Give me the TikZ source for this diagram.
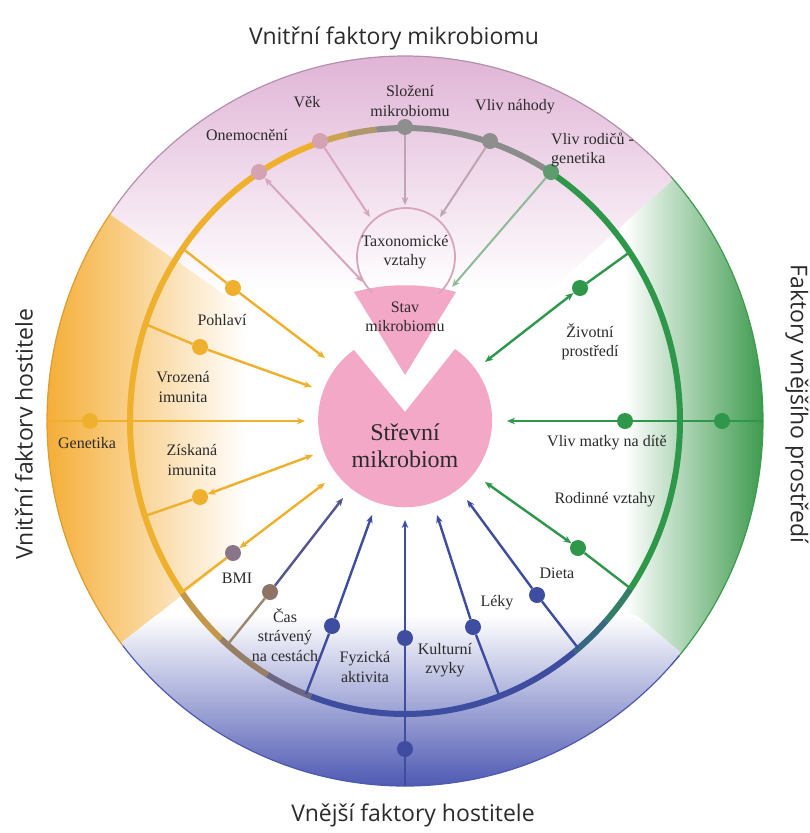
\documentclass[tikz,border=0pt]{standalone}
\usepackage{fontspec}
\setmainfont{Liberation Serif}
\newfontfamily\titlefont{Open Sans}
\usetikzlibrary{arrows.meta}

\definecolor{bgpink}{HTML}{E0B4D6}
\definecolor{bgorange}{HTML}{F5AE38}
\definecolor{bggreen}{HTML}{3E9B4F}
\definecolor{bgblue}{HTML}{4D58B2}
\definecolor{ringorange}{HTML}{EFB02E}
\definecolor{ringgray}{HTML}{8C8C8C}
\definecolor{ringgreen}{HTML}{2E974A}
\definecolor{ringblue}{HTML}{3E4DA0}
\definecolor{piepink}{HTML}{F4A8C8}
\definecolor{toppink}{HTML}{D7A6BE}
\definecolor{topgray}{HTML}{C0A4B4}
\definecolor{rodgreen}{HTML}{8DBA97}
\definecolor{dotpink}{HTML}{D5A2B4}
\definecolor{dotgray}{HTML}{8E8E8E}
\definecolor{dotrod}{HTML}{5E9C70}
\definecolor{dotbmi}{HTML}{8A7488}
\definecolor{dotcas}{HTML}{8F7466}
\definecolor{casline}{HTML}{55558F}
\definecolor{casbrown}{HTML}{9C8670}
\definecolor{labeltext}{HTML}{2B2B2B}

\tikzset{
  bead/.style={circle, inner sep=0pt, minimum size=16pt},
  spoke/.style={line width=2.4pt},
  ringarc/.style={line width=6pt, x radius=275, y radius=293},
  rimarc/.style={line width=1.2pt, x radius=358, y radius=365},
  lbl/.style={font=\fontsize{16}{19.5}\selectfont, text=labeltext, align=center, inner sep=0pt},
  heading/.style={font=\titlefont\fontsize{23}{26}\selectfont, text=labeltext, inner sep=0pt},
}

\begin{document}
\begin{tikzpicture}[x=1pt, y=-1pt, >={Stealth[length=8pt,width=6.5pt]}]
    \useasboundingbox (0,0) rectangle (809,833);
    \coordinate (c) at (405,421);

    % background quarters
    \begin{scope}
        \clip (c) ellipse [x radius=358, y radius=365];
        \fill[white] (40,50) rectangle (770,790);
        \begin{scope}
            \clip (c) -- +(215:600) -- +(270:600) -- +(318:600) -- cycle;
            \shade[top color=bgpink, middle color=bgpink!45, bottom color=white] (40,56) rectangle (770,290);
        \end{scope}
        \begin{scope}
            \clip (c) -- +(142:600) -- +(180:600) -- +(215:600) -- cycle;
            \shade[left color=bgorange, middle color=bgorange!35, right color=white] (47,200) rectangle (245,650);
        \end{scope}
        \begin{scope}
            \clip (c) -- +(318:600) -- +(360:600) -- +(402:600) -- cycle;
            \shade[left color=white, middle color=bggreen!30, right color=bggreen] (625,100) rectangle (763,740);
        \end{scope}
        \begin{scope}
            \clip (c) -- +(40:600) -- +(90:600) -- +(142:600) -- cycle;
            \shade[top color=white, middle color=bgblue!30, bottom color=bgblue] (40,615) rectangle (770,788);
        \end{scope}
    \end{scope}

    % outer rim
    \draw[rimarc, bgpink!80!black] (c) ++(215:358 and 365) arc[start angle=215, end angle=318];
    \draw[rimarc, bgorange!90!black] (c) ++(142:358 and 365) arc[start angle=142, end angle=215];
    \draw[rimarc, bggreen] (c) ++(318:358 and 365) arc[start angle=318, end angle=402];
    \draw[rimarc, bgblue] (c) ++(40:358 and 365) arc[start angle=40, end angle=142];

    % inner ring
    \draw[ringarc, ringblue] (c) ++(52:275 and 293) arc[start angle=52, end angle=110];
    \draw[ringarc, ringblue!75!ringorange] (c) ++(110:275 and 293) arc[start angle=110, end angle=120];
    \draw[ringarc, ringblue!50!ringorange] (c) ++(120:275 and 293) arc[start angle=120, end angle=132];
    \draw[ringarc, ringblue!25!ringorange] (c) ++(132:275 and 293) arc[start angle=132, end angle=144];
    \draw[ringarc, ringorange] (c) ++(144:275 and 293) arc[start angle=144, end angle=252];
    \draw[ringarc, ringorange!65!ringgray] (c) ++(252:275 and 293) arc[start angle=252, end angle=258];
    \draw[ringarc, ringorange!35!ringgray] (c) ++(258:275 and 293) arc[start angle=258, end angle=264];
    \draw[ringarc, ringgray] (c) ++(264:275 and 293) arc[start angle=264, end angle=302];
    \draw[ringarc, ringgreen] (c) ++(302:275 and 293) arc[start angle=302, end angle=395];
    \draw[ringarc, ringgreen!65!ringblue] (c) ++(395:275 and 293) arc[start angle=395, end angle=403];
    \draw[ringarc, ringgreen!35!ringblue] (c) ++(403:275 and 293) arc[start angle=403, end angle=412];

    % pie and wedge
    \fill[piepink] (405,412) -- (455,349) arc[start angle=305, end angle=594, radius=87] -- cycle;
    \fill[piepink] (405,375) -- (354,292) .. controls (385,283) and (425,283) .. (456,292) -- cycle;
    \draw[toppink, line width=1.8pt] (406,257) ++(134:49) arc[start angle=134, end angle=408, radius=49];

    % junctions on the ring and free ends
    \coordinate (j1) at (182,248);
    \coordinate (j2) at (145,324);
    \coordinate (j4) at (145,516);
    \coordinate (j5) at (182,592);
    \coordinate (j6) at (228,644);
    \coordinate (j7) at (306,694);
    \coordinate (j9) at (499,695);
    \coordinate (j10) at (578,648);
    \coordinate (j11) at (630,252);
    \coordinate (j12) at (630,588);
    \coordinate (genstart) at (47,421);
    \coordinate (kultstart) at (405,786);
    \coordinate (matkastart) at (763,421);

    \coordinate (onemtip) at (363,282);
    \coordinate (vektip) at (370,217);
    \coordinate (sloztip) at (405,205);
    \coordinate (nahodatip) at (440,217);
    \coordinate (rodicetip) at (452,287);
    \coordinate (pohltip) at (325,358);
    \coordinate (vroztip) at (312,387);
    \coordinate (gentip) at (305,421);
    \coordinate (zisktip) at (313,455);
    \coordinate (bmitip) at (325,483);
    \coordinate (castip) at (343,498);
    \coordinate (fyztip) at (372,515);
    \coordinate (kulttip) at (405,520);
    \coordinate (lektip) at (437,515);
    \coordinate (lek2tip) at (467,500);
    \coordinate (dietatip) at (485,482);
    \coordinate (matkatip) at (507,421);
    \coordinate (zivtip) at (485,362);

    % beads
    \node[bead, fill=dotpink] (onem) at (259,172) {};
    \node[bead, fill=dotpink] (vek) at (320,141) {};
    \node[bead, fill=dotgray] (sloz) at (405,127) {};
    \node[bead, fill=dotgray] (nahoda) at (490,141) {};
    \node[bead, fill=dotrod] (rodice) at (551,172) {};
    \node[bead, fill=ringorange] (pohl) at (233,288) {};
    \node[bead, fill=ringorange] (vroz) at (200,347) {};
    \node[bead, fill=ringorange] (gen) at (90,421) {};
    \node[bead, fill=ringorange] (zisk) at (200,497) {};
    \node[bead, fill=dotbmi] (bmi) at (233,553) {};
    \node[bead, fill=dotcas] (cas) at (270,592) {};
    \node[bead, fill=ringblue] (fyz) at (332,626) {};
    \node[bead, fill=ringblue] (kult) at (405,638) {};
    \node[bead, fill=ringblue] (kult2) at (405,749) {};
    \node[bead, fill=ringblue] (lek) at (473,627) {};
    \node[bead, fill=ringblue] (lek2) at (537,595) {};
    \node[bead, fill=ringgreen] (dieta) at (578,548) {};
    \node[bead, fill=ringgreen] (matka) at (625,421) {};
    \node[bead, fill=ringgreen] (matka2) at (722,421) {};
    \node[bead, fill=ringgreen] (ziv) at (580,288) {};

    % top spokes
    \draw[spoke, toppink, line width=2pt, <->] (onem) -- (onemtip);
    \draw[spoke, toppink, line width=2pt, ->] (vek) -- (vektip);
    \draw[spoke, topgray, line width=2pt, ->] (sloz) -- (sloztip);
    \draw[spoke, topgray, line width=2pt, ->] (nahoda) -- (nahodatip);
    \draw[spoke, rodgreen, line width=2pt, ->] (rodice) -- (rodicetip);

    % left spokes
    \draw[spoke, ringorange] (j1) -- (pohl);
    \draw[spoke, ringorange, ->] (pohl) -- (pohltip);
    \draw[spoke, ringorange] (j2) -- (vroz);
    \draw[spoke, ringorange, ->] (vroz) -- (vroztip);
    \draw[spoke, ringorange] (genstart) -- (gen);
    \draw[spoke, ringorange, ->] (gen) -- (gentip);
    \draw[spoke, ringorange] (j4) -- (zisk);
    \draw[spoke, ringorange, <->] (zisk) -- (zisktip);
    \draw[spoke, ringorange] (j5) -- (bmi);
    \draw[spoke, ringorange, <->] (bmi) -- (bmitip);
    \draw[spoke, casbrown] (j6) -- (cas);
    \draw[spoke, casline, ->] (cas) -- (castip);

    % bottom spokes
    \draw[spoke, ringblue] (j7) -- (fyz);
    \draw[spoke, ringblue, ->] (fyz) -- (fyztip);
    \draw[spoke, ringblue] (kultstart) -- (kult2);
    \draw[spoke, ringblue] (kult2) -- (kult);
    \draw[spoke, ringblue, ->] (kult) -- (kulttip);
    \draw[spoke, ringblue] (j9) -- (lek);
    \draw[spoke, ringblue, ->] (lek) -- (lektip);
    \draw[spoke, ringblue] (j10) -- (lek2);
    \draw[spoke, ringblue, ->] (lek2) -- (lek2tip);

    % right spokes
    \draw[spoke, ringgreen] (j12) -- (dieta);
    \draw[spoke, ringgreen, <->] (dieta) -- (dietatip);
    \draw[spoke, ringgreen] (matkastart) -- (matka2);
    \draw[spoke, ringgreen] (matka2) -- (matka);
    \draw[spoke, ringgreen, ->] (matka) -- (matkatip);
    \draw[spoke, ringgreen] (j11) -- (ziv);
    \draw[spoke, ringgreen, <->] (ziv) -- (zivtip);

    % labels
    \node[lbl] (onemL) at (247,135) {Onemocnění};
    \node[lbl] (vekL) at (307,102) {Věk};
    \node[lbl] (slozL) at (410,101) {Složení\\mikrobiomu};
    \node[lbl] (nahodaL) at (515,107) {Vliv náhody};
    \node[lbl, anchor=west, align=left] (rodiceL) at (551,150) {Vliv rodičů -\\genetika};
    \node[lbl] (taxL) at (405,252) {Taxonomické\\vztahy};
    \node[lbl] (stavL) at (405,317) {Stav\\mikrobiomu};
    \node[lbl, font=\fontsize{24}{27}\selectfont] (pieL) at (405,446) {Střevní\\mikrobiom};
    \node[lbl] (pohlL) at (222,320) {Pohlaví};
    \node[lbl] (vrozL) at (183,387) {Vrozená\\imunita};
    \node[lbl] (genL) at (87,443) {Genetika};
    \node[lbl] (ziskL) at (192,460) {Získaná\\imunita};
    \node[lbl] (bmiL) at (237,578) {BMI};
    \node[lbl] (casL) at (285,635) {Čas\\strávený\\na cestách};
    \node[lbl] (fyzL) at (365,667) {Fyzická\\aktivita};
    \node[lbl] (kultL) at (445,660) {Kulturní\\zvyky};
    \node[lbl] (lekL) at (497,603) {Léky};
    \node[lbl] (dietaL) at (557,573) {Dieta};
    \node[lbl] (rodinL) at (605,500) {Rodinné vztahy};
    \node[lbl] (matkaL) at (607,443) {Vliv matky na dítě};
    \node[lbl] (zivL) at (590,342) {Životní\\prostředí};

    % headings
    \node[heading] (topH) at (394,38) {Vnitřní faktory mikrobiomu};
    \node[heading, rotate=90] (leftH) at (24,434) {Vnitřní faktorv hostitele};
    \node[heading, rotate=-90] (rightH) at (797,404) {Faktory vnějšího prostředí};
    \node[heading] (bottomH) at (413,815) {Vnější faktory hostitele};
\end{tikzpicture}
\end{document}
